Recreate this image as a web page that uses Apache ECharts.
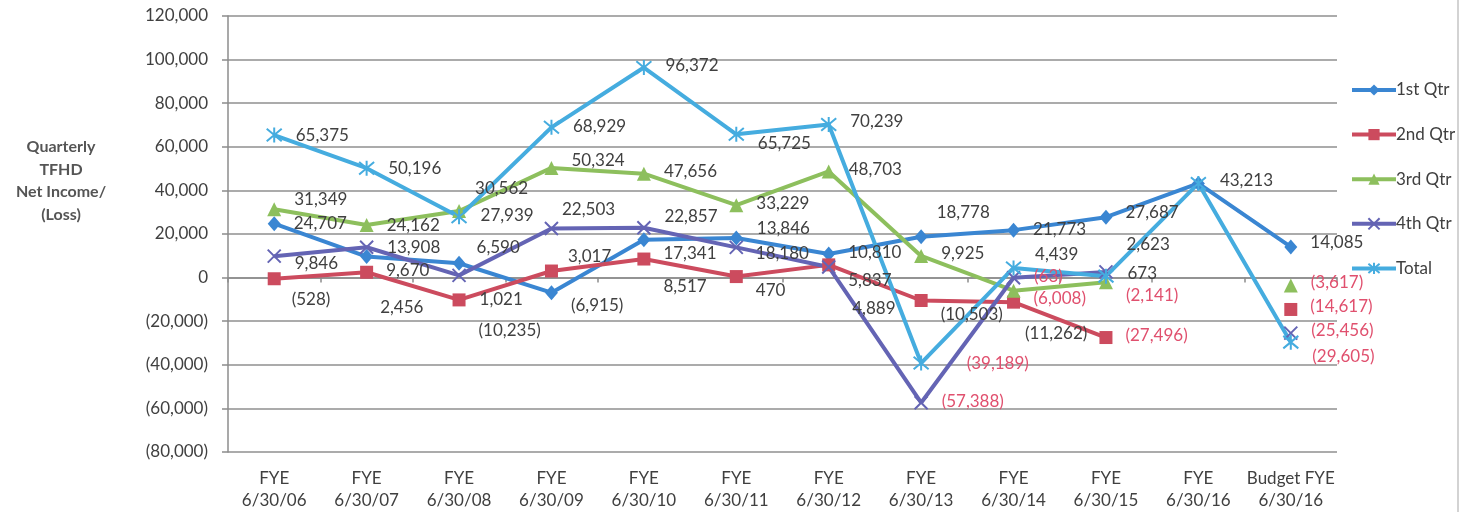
<!DOCTYPE html>
<html>
<head>
<meta charset="utf-8">
<script src="https://cdn.jsdelivr.net/npm/echarts@6/dist/echarts.min.js"></script>
<style>
  html, body { margin: 0; padding: 0; background: #ffffff; }
  #chart { width: 1468px; height: 512px; }
</style>
</head>
<body>
<div id="chart"></div>
<script>
// Fiscal-year columns (last one is the budget)
const categories = [
  'FYE\n6/30/06', 'FYE\n6/30/07', 'FYE\n6/30/08', 'FYE\n6/30/09',
  'FYE\n6/30/10', 'FYE\n6/30/11', 'FYE\n6/30/12', 'FYE\n6/30/13',
  'FYE\n6/30/14', 'FYE\n6/30/15', 'FYE\n6/30/16', 'Budget FYE\n6/30/16'
];

// Quarterly net income / (loss) per fiscal year
const q1    = [24707, 9670, 6590, -6915, 17341, 18180, 10810, 18778, 21773, 27687, 43213, 14085];
const q2    = [-528, 2456, -10235, 3017, 8517, 470, 5837, -10503, -11262, -27496, null, -14617];
const q3    = [31349, 24162, 30562, 50324, 47656, 33229, 48703, 9925, -6008, -2141, null, -3617];
const q4    = [9846, 13908, 1021, 22503, 22857, 13846, 4889, -57388, -63, 2623, null, -25456];
const total = [65375, 50196, 27939, 68929, 96372, 65725, 70239, -39189, 4439, 673, 43213, -29605];

const yTicks = { min: -80000, max: 120000, interval: 20000 };

// Label nudges [dx, dy] so overlapping labels stay readable
const nudgeQ1    = [[0,0],[0,14],[-2,-16],[0,13],[0,14],[0,16],[0,-2],[-4,-24],[0,-1],[0,-5],null,[0,-4]];
const nudgeQ2    = [[-2,21],[-6,35],[0,31],[-3,-15],[0,27],[0,14],[0,16],[0,14],[-8,31],[0,-2],null,[0,-3]];
const nudgeQ3    = [[0,-10],[0,1],[-4,-22],[0,-7],[0,-2],[0,-2],[0,-2],[0,-2],[0,8],[0,13],null,[0,-3]];
const nudgeQ4    = [[0,7],[0,0],[0,24],[-10,-19],[0,-11],[0,-19],[3,42],[0,-1],[0,-1],[0,-27],null,[0,-3]];
const nudgeTotal = [[0,0],[0,0],[0,-1],[0,-1],[0,-2],[0,9],[0,-3],[24,0],[0,-13],[0,-3],[0,-3],[0,14]];

// Labels printed in red
const redQ1    = [];
const redQ2    = [9, 11];
const redQ3    = [8, 9, 11];
const redQ4    = [7, 8, 11];
const redTotal = [7, 11];

const TEXT = '#404040';
const RED = '#e0506e';
const FONT = 'Lato, "Open Sans", sans-serif';

function acct(v) {
  if (v === 0) return '0';
  const s = Math.abs(v).toLocaleString('en-US');
  return v < 0 ? '(' + s + ')' : s;
}

function buildData(values, nudges, reds, hidden) {
  return values.map((v, i) => {
    if (v === null) return null;
    const n = nudges[i] || [0, 0];
    return {
      value: v,
      label: {
        show: !(hidden && hidden.includes(i)),
        offset: n,
        color: reds.includes(i) ? RED : TEXT
      }
    };
  });
}

const X_PATH = 'path://M0 0L10 10M10 0L0 10';
const STAR_PATH = 'path://M0 1L10 11M10 1L0 11M5 0L5 12';

function lineSeries(name, color, values, nudges, reds, symbol, size, stroked, hidden) {
  return {
    name: name,
    type: 'line',
    xAxisIndex: 0,
    data: buildData(values, nudges, reds, hidden),
    symbol: symbol,
    symbolSize: size,
    showAllSymbol: true,
    lineStyle: { color: color, width: 4 },
    itemStyle: stroked
      ? { color: color, borderColor: color, borderWidth: 2 }
      : { color: color, borderWidth: 0 },
    label: {
      show: true,
      position: 'right',
      distance: 13,
      fontFamily: FONT,
      fontSize: 17,
      color: TEXT,
      formatter: p => acct(p.value)
    },
    emphasis: { disabled: true },
    animation: false
  };
}

const chart = echarts.init(document.getElementById('chart'), null, { renderer: 'canvas' });

chart.setOption({
  backgroundColor: '#ffffff',
  animation: false,
  grid: { left: 228, right: 131, top: 16, bottom: 59, containLabel: false },
  legend: {
    orient: 'vertical',
    left: 1345,
    top: 76,
    itemWidth: 44,
    itemHeight: 14,
    itemGap: 26.6,
    lineStyle: { width: 4 },
    textStyle: { fontFamily: FONT, fontSize: 17, color: TEXT, lineHeight: 18, padding: [0, 0, 0, -5] },
    data: ['1st Qtr', '2nd Qtr', '3rd Qtr', '4th Qtr', 'Total']
  },
  xAxis: [
    {
      type: 'category',
      data: categories,
      boundaryGap: true,
      axisLine: { onZero: true, lineStyle: { color: '#8c8c8c', width: 1.5 } },
      axisTick: { show: true, length: 5, lineStyle: { color: '#8c8c8c', width: 1.5 } },
      axisLabel: { show: false },
      splitLine: { show: false }
    },
    {
      type: 'category',
      data: categories,
      position: 'bottom',
      boundaryGap: true,
      axisLine: { show: false, onZero: false },
      axisTick: { show: false },
      axisLabel: {
        show: true,
        interval: 0,
        margin: 16,
        fontFamily: FONT,
        fontSize: 17,
        lineHeight: 22,
        color: TEXT,
        align: 'center'
      },
      splitLine: { show: false }
    }
  ],
  yAxis: {
    type: 'value',
    min: yTicks.min,
    max: yTicks.max,
    interval: yTicks.interval,
    axisLine: { show: true, lineStyle: { color: '#8c8c8c', width: 1.5 } },
    axisTick: { show: true, length: 6, inside: false, lineStyle: { color: '#8c8c8c', width: 1.5 } },
    axisLabel: {
      margin: 20,
      fontFamily: FONT,
      fontSize: 17,
      color: TEXT,
      formatter: v => acct(v)
    },
    splitLine: { show: true, lineStyle: { color: '#8f8f8f', width: 1.5 } }
  },
  graphic: [
    {
      type: 'text',
      x: 61,
      y: 136,
      style: {
        text: 'Quarterly\nTFHD\nNet Income/\n(Loss)',
        fontFamily: FONT,
        fontWeight: 'bold',
        fontSize: 16,
        lineHeight: 22.5,
        fill: '#555555',
        align: 'center',
        verticalAlign: 'top'
      }
    },
    {
      type: 'line',
      shape: { x1: 1458, y1: 0, x2: 1458, y2: 512 },
      style: { stroke: '#c4c4c4', lineWidth: 1.5 }
    }
  ],
  series: [
    lineSeries('1st Qtr', '#3a86d2', q1, nudgeQ1, redQ1, 'diamond', [13, 15], false, [10]),
    lineSeries('2nd Qtr', '#cc4b5e', q2, nudgeQ2, redQ2, 'rect', 13, false),
    lineSeries('3rd Qtr', '#8dbf5d', q3, nudgeQ3, redQ3, 'triangle', 14, false),
    lineSeries('4th Qtr', '#6464b4', q4, nudgeQ4, redQ4, X_PATH, 13, true),
    lineSeries('Total', '#45acdf', total, nudgeTotal, redTotal, STAR_PATH, 15, true)
  ]
});
</script>
</body>
</html>
